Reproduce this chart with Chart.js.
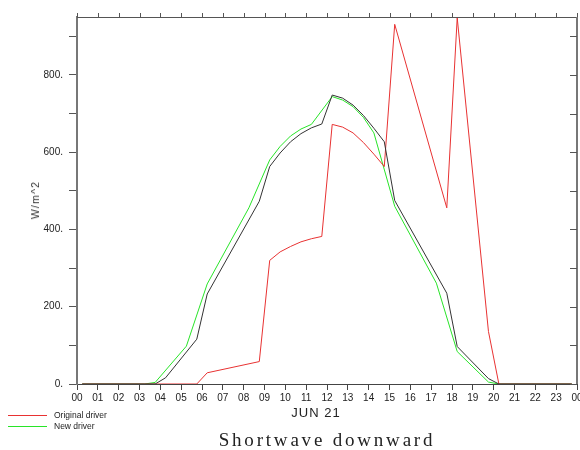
<!DOCTYPE html>
<html>
<head>
<meta charset="utf-8">
<script src="https://cdn.jsdelivr.net/npm/chart.js@4"></script>
<style>
  body { margin: 0; background: #fff; }
  #wrap { position: relative; width: 580px; height: 450px; }
  .txt { position: absolute; color: #222; white-space: nowrap; font-family: "Liberation Sans", Arial, sans-serif; }
  #ytitle { left: 35px; top: 200px; font-size: 10.5px; letter-spacing: 1.2px; color: #333; transform: translate(-50%, -50%) rotate(-90deg); }
  #xtitle { left: 316px; top: 412px; font-size: 13px; letter-spacing: 1px; transform: translate(-50%, -50%); }
  #title { left: 327px; top: 440px; font-family: "Liberation Serif", "Times New Roman", serif; font-size: 19px; letter-spacing: 2.8px; transform: translate(-50%, -50%); }
  .leg { font-size: 8.5px; left: 54px; transform: translateY(-50%); }
  .swatch { position: absolute; left: 8px; width: 39px; height: 1px; }
</style>
</head>
<body>
<div id="wrap">
  <canvas id="chart" width="580" height="450"></canvas>
  <div class="txt" id="ytitle">W/m^2</div>
  <div class="txt" id="xtitle">JUN 21</div>
  <div class="txt" id="title">Shortwave downward</div>
  <div class="swatch" style="top:415px;background:rgb(232,50,50)"></div>
  <div class="txt leg" style="top:415px">Original driver</div>
  <div class="swatch" style="top:426px;background:rgb(40,228,40)"></div>
  <div class="txt leg" style="top:426px">New driver</div>
</div>
<script>
// hours of JUN 21 and W/m^2 values
const baseHours  = [0.25, 3.75, 4.25, 5.75, 6.25, 8.75, 9.25, 9.75, 10.25, 10.75, 11.25, 11.75, 12.25, 12.75, 13.25, 13.75, 14.25, 14.75, 15.25, 17.75, 18.25, 19.75, 20.25, 23.75];
const baseValues = [0, 0, 16, 116, 233, 473, 563, 598, 627, 648, 663, 673, 748, 740, 722, 695, 662, 627, 475, 235, 97, 14, 0, 0];

const origHours  = [0.25, 5.75, 6.25, 8.75, 9.25, 9.75, 10.25, 10.75, 11.25, 11.75, 12.25, 12.75, 13.25, 13.75, 14.25, 14.75, 15.25, 17.75, 18.25, 19.75, 20.25, 23.75];
const origValues = [0, 0, 29, 58, 320, 342, 356, 368, 376, 382, 672, 665, 650, 625, 595, 563, 931, 456, 948, 136, 0, 0];

const newHours  = [0.25, 3.25, 3.75, 5.25, 6.25, 8.25, 9.25, 9.75, 10.25, 10.75, 11.25, 12.25, 12.75, 13.25, 13.75, 14.25, 15.25, 17.25, 18.25, 19.75, 20.25, 23.75];
const newValues = [0, 0, 4, 98, 259, 456, 580, 615, 642, 660, 672, 744, 735, 718, 690, 650, 460, 261, 84, 5, 0, 0];

const yTicks = [0, 200, 400, 600, 800];

function pts(hours, vals) {
  return hours.map((h, i) => ({ x: h, y: vals[i] }));
}

// top and right frame lines with their ticks
const frame = {
  id: 'frame',
  afterDraw(chart) {
    const c = chart.ctx, a = chart.chartArea;
    const xs = chart.scales.x, ys = chart.scales.y;
    c.save();
    c.strokeStyle = '#555';
    c.lineWidth = 1;
    c.beginPath();
    c.moveTo(a.left, a.top + 0.5); c.lineTo(a.right, a.top + 0.5);
    for (let h = 0; h <= 24; h++) {
      const px = Math.round(xs.getPixelForValue(h)) + 0.5;
      c.moveTo(px, a.top); c.lineTo(px, a.top - 4);
    }
    c.stroke();
    c.strokeStyle = '#777';
    c.lineWidth = 2;
    c.beginPath();
    c.moveTo(a.right, a.top); c.lineTo(a.right, a.bottom);
    c.stroke();
    c.lineWidth = 1;
    c.strokeStyle = '#555';
    c.beginPath();
    for (let v = 0; v <= 900; v += 100) {
      const py = Math.round(ys.getPixelForValue(v)) + 0.5;
      c.moveTo(a.right, py); c.lineTo(a.right - 7, py);
    }
    c.stroke();
    c.restore();
  }
};

new Chart(document.getElementById('chart'), {
  type: 'line',
  data: {
    datasets: [
      { label: 'Control', data: pts(baseHours, baseValues), borderColor: '#333', borderWidth: 1 },
      { label: 'Original driver', data: pts(origHours, origValues), borderColor: 'rgb(232,50,50)', borderWidth: 1 },
      { label: 'New driver', data: pts(newHours, newValues), borderColor: 'rgb(40,228,40)', borderWidth: 1 }
    ]
  },
  options: {
    responsive: false,
    animation: false,
    events: [],
    elements: { point: { radius: 0 }, line: { tension: 0 } },
    layout: { padding: { left: 0, top: 17, right: 3, bottom: 0 } },
    plugins: { legend: { display: false }, tooltip: { enabled: false } },
    scales: {
      x: {
        type: 'linear',
        min: 0,
        max: 24,
        grid: { drawOnChartArea: false, tickLength: 6, color: '#444' },
        border: { color: '#444', width: 1 },
        ticks: {
          stepSize: 1,
          autoSkip: false,
          maxRotation: 0,
          padding: 2,
          color: '#222',
          font: { family: 'Liberation Sans', size: 10 },
          callback: v => String(v % 24).padStart(2, '0')
        },
        afterFit(s) { s.height = 66; s.paddingLeft = 0; s.paddingRight = 0; }
      },
      y: {
        min: 0,
        max: 950,
        grid: { drawOnChartArea: false, tickLength: 8, color: '#555' },
        border: { color: '#777', width: 2 },
        ticks: {
          stepSize: 100,
          padding: 6,
          color: '#222',
          font: { family: 'Liberation Sans', size: 10 },
          callback: v => yTicks.includes(v) ? v + '.' : ''
        },
        afterBuildTicks(s) { s.ticks = s.ticks.filter(t => t.value % 100 === 0); },
        afterFit(s) { s.width = 77; s.paddingTop = 0; s.paddingBottom = 0; }
      }
    }
  },
  plugins: [frame]
});
</script>
</body>
</html>
